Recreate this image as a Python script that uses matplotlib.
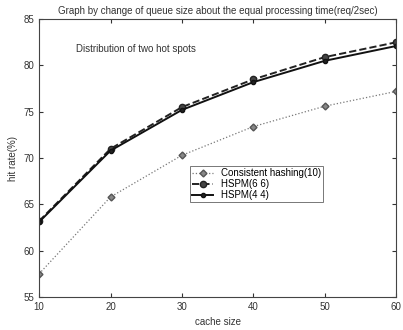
import numpy as np
import matplotlib.pyplot as plt

plt.rcParams['font.family'] = ['Liberation Sans', 'DejaVu Sans']

# cache size vs hit rate
cache_size = [10, 20, 30, 40, 50, 60]
consistent = [57.5, 65.8, 70.3, 73.4, 75.6, 77.2]
hspm66 = [63.2, 71.0, 75.5, 78.5, 80.9, 82.5]
hspm44 = [63.1, 70.8, 75.2, 78.2, 80.5, 82.1]

fig = plt.figure(figsize=(4.03, 3.30), dpi=100)
ax = fig.add_axes([0.097, 0.10, 0.886, 0.842])

ax.plot(cache_size, consistent, ':', color='#777777', lw=0.9, marker='D',
        ms=3.5, mfc='#888888', mec='#555555', label='Consistent hashing(10)')
ax.plot(cache_size, hspm66, '--', color='#222222', lw=1.4, marker='o',
        ms=4.5, mfc='#444444', mec='#222222', label='HSPM(6 6)')
ax.plot(cache_size, hspm44, '-', color='#111111', lw=1.4, marker='o',
        ms=3, mfc='#222222', mec='#111111', label='HSPM(4 4)')

ax.set_xlim(10, 60)
ax.set_ylim(55, 85)
ax.set_xticks([10, 20, 30, 40, 50, 60])
ax.set_yticks([55, 60, 65, 70, 75, 80, 85])
ax.tick_params(direction='in', labelsize=7, colors='#333333', top=True, right=True, length=3)
for s in ax.spines.values():
    s.set_color('#444444')
    s.set_linewidth(0.8)

ax.set_xlabel('cache size', fontsize=7, color='#333333')
ax.set_ylabel('hit rate(%)', fontsize=7, color='#333333')
ax.set_title('Graph by change of queue size about the equal processing time(req/2sec)',
             fontsize=7, color='#333333', pad=4)
ax.text(15.2, 81.4, 'Distribution of two hot spots', fontsize=7, color='#333333')

leg = ax.legend(loc='upper left', bbox_to_anchor=(0.423, 0.471), fontsize=7,
                frameon=True, fancybox=False, edgecolor='#555555',
                borderpad=0.2, handlelength=2.2, labelspacing=0.1,
                borderaxespad=0)
leg.get_frame().set_linewidth(0.7)

fig.savefig('out.png', dpi=100)
